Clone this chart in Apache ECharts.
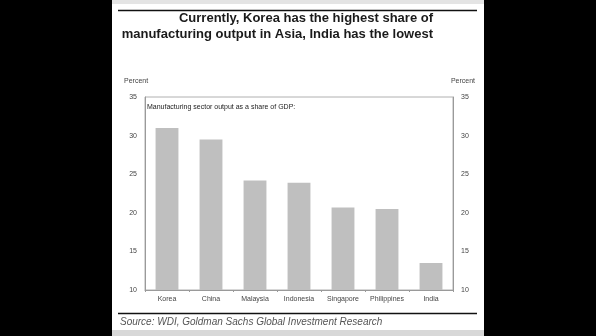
<!DOCTYPE html>
<html><head><meta charset="utf-8">
<script src="https://cdn.jsdelivr.net/npm/echarts@6/dist/echarts.min.js"></script>
<style>html,body{margin:0;padding:0;background:#fff}#c{width:596px;height:336px}</style>
</head><body><div id="c"></div>
<script>
const categories = ['Korea','China','Malaysia','Indonesia','Singapore','Philippines','India'];
const shareOfGDP = [31.0, 29.5, 24.2, 23.9, 20.7, 20.5, 13.5];
const yMin = 10, yMax = 35, yStep = 5;
const titleLines = ['Currently, Korea has the highest share of', 'manufacturing output in Asia, India has the lowest'];
const subtitle = 'Manufacturing sector output as a share of GDP:';
const sourceText = 'Source: WDI, Goldman Sachs Global Investment Research';
const unitLabel = 'Percent';

const chart = echarts.init(document.getElementById('c'), null, {renderer:'canvas'});
const fam = '"Liberation Sans", Arial, sans-serif';
const axisColor = '#9a9a9a';
const lblStyle = {color:'#444', fontSize:7, fontFamily:fam};
chart.setOption({
  animation:false,
  backgroundColor:'#fff',
  grid:{left:145, right:143, top:97, bottom:46, show:true, borderColor:'#b0b0b0', borderWidth:1},
  xAxis:{type:'category', data:categories,
    axisLine:{lineStyle:{color:axisColor}},
    axisTick:{show:true, length:2, lineStyle:{color:axisColor}},
    axisLabel:Object.assign({margin:6, interval:0}, lblStyle)},
  yAxis:[
    {type:'value', min:yMin, max:yMax, interval:yStep, position:'left',
     axisLine:{show:true, lineStyle:{color:axisColor}}, axisTick:{show:false},
     splitLine:{show:false}, axisLabel:Object.assign({margin:8}, lblStyle)},
    {type:'value', min:yMin, max:yMax, interval:yStep, position:'right',
     axisLine:{show:true, lineStyle:{color:axisColor}}, axisTick:{show:false},
     splitLine:{show:false}, axisLabel:Object.assign({margin:8}, lblStyle)}
  ],
  series:[{type:'bar', data:shareOfGDP, barWidth:'52%', itemStyle:{color:'#bfbfbf'}}],
  graphic:[
    {type:'rect', shape:{x:0,y:0,width:112,height:336}, style:{fill:'#000'}},
    {type:'rect', shape:{x:484,y:0,width:112,height:336}, style:{fill:'#000'}},
    {type:'rect', shape:{x:112,y:0,width:372,height:4}, style:{fill:'#e4e4e4'}},
    {type:'rect', shape:{x:112,y:330,width:372,height:6}, style:{fill:'#d8d8d8'}},
    {type:'line', shape:{x1:118,y1:10.5,x2:477,y2:10.5}, style:{stroke:'#111',lineWidth:1.5}},
    {type:'line', shape:{x1:118,y1:313.5,x2:477,y2:313.5}, style:{stroke:'#111',lineWidth:1.5}},
    {type:'text', x:433, y:18.5, style:{text:titleLines[0], font:'bold 13px '+fam, fill:'#1a1a1a', textAlign:'right', textVerticalAlign:'middle'}},
    {type:'text', x:433, y:34, style:{text:titleLines[1], font:'bold 13px '+fam, fill:'#1a1a1a', textAlign:'right', textVerticalAlign:'middle'}},
    {type:'text', x:124, y:81, style:{text:unitLabel, font:'7px '+fam, fill:'#444', textAlign:'left', textVerticalAlign:'middle'}},
    {type:'text', x:475, y:81, style:{text:unitLabel, font:'7px '+fam, fill:'#444', textAlign:'right', textVerticalAlign:'middle'}},
    {type:'text', x:147, y:107, style:{text:subtitle, font:'7px '+fam, fill:'#222', textAlign:'left', textVerticalAlign:'middle'}},
    {type:'text', x:120, y:322, style:{text:sourceText, font:'italic 10px '+fam, fill:'#555', textAlign:'left', textVerticalAlign:'middle'}}
  ]
});
</script></body></html>
